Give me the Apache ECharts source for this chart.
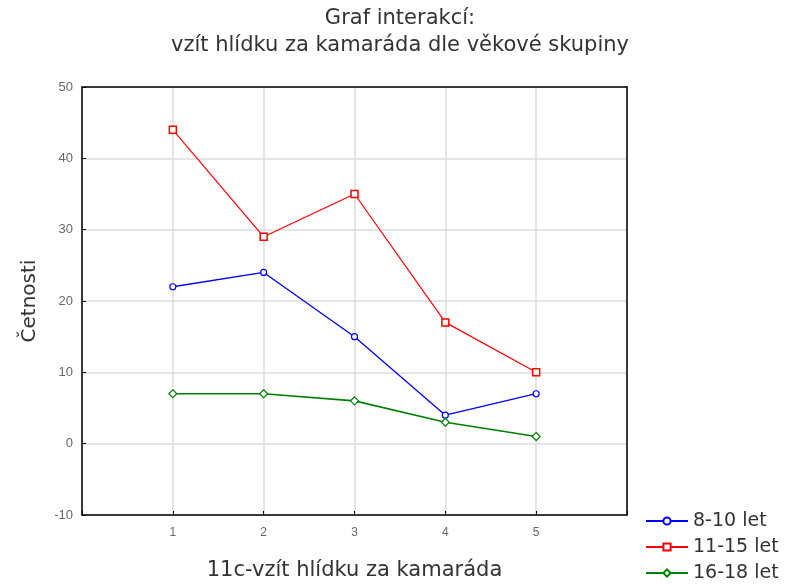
<!DOCTYPE html>
<html><head><meta charset="utf-8">
<script src="https://cdn.jsdelivr.net/npm/echarts@6/dist/echarts.min.js"></script>
<style>html,body{margin:0;padding:0;background:#fff;overflow:hidden}#c{width:800px;height:586px}</style>
</head><body><div id="c"></div>
<script>
var categories = [1, 2, 3, 4, 5];
var s810 = [22, 24, 15, 4, 7];
var s1115 = [44, 29, 35, 17, 10];
var s1618 = [7, 7, 6, 3, 1];
var yTicks = [-10, 0, 10, 20, 30, 40, 50];

function pts(arr){ return categories.map(function(c,i){ return [c, arr[i]]; }); }

var chart = echarts.init(document.getElementById('c'));
var font = '"DejaVu Sans", Verdana, sans-serif';
var tickFont = 'Arial, "Liberation Sans", sans-serif';
chart.setOption({
  animation: false,
  textStyle: {fontFamily: font},
  title: {
    text: 'Graf interakcí:\nvzít hlídku za kamaráda dle věkové skupiny',
    left: 400, textAlign: 'center', top: 5, padding: 0,
    textStyle: {fontSize: 21, fontWeight: 'normal', color: '#333', lineHeight: 27, fontFamily: font}
  },
  grid: {left: 82, top: 87, width: 545, height: 430, containLabel: false},
  legend: {
    orient: 'vertical', left: 645, top: 511, padding: 0, itemGap: 6, itemWidth: 42, itemHeight: 9,
    textStyle: {fontSize: 19, color: '#333', fontFamily: font, lineHeight: 20},
    data: ['8-10 let', '11-15 let', '16-18 let']
  },
  xAxis: [{
    type: 'value', min: 0, max: 6, interval: 1,
    name: '11c-vzít hlídku za kamaráda', nameLocation: 'middle', nameGap: 45,
    nameTextStyle: {fontSize: 21, color: '#333', fontFamily: font},
    axisLine: {onZero: false, lineStyle: {color: '#000', width: 1.5}},
    axisTick: {inside: true, length: 4, lineStyle: {color: '#000'}},
    axisLabel: {fontSize: 12, color: '#666', margin: 12, fontFamily: tickFont, formatter: function(v){ return (v>=1 && v<=5) ? String(v) : ''; }},
    splitLine: {show: true, lineStyle: {color: '#dcdcdc', width: 1.5}}
  }, {
    type: 'value', position: 'top', min: 0, max: 6, interval: 1,
    axisLine: {show: true, onZero: false, lineStyle: {color: '#000', width: 1.5}},
    axisTick: {show: false}, axisLabel: {show: false}, splitLine: {show: false}
  }],
  yAxis: [{
    type: 'value', min: yTicks[0], max: yTicks[yTicks.length-1], interval: 10,
    name: 'Četnosti', nameLocation: 'middle', nameGap: 42,
    nameTextStyle: {fontSize: 20, color: '#333', fontFamily: font},
    axisLine: {show: true, onZero: false, lineStyle: {color: '#000', width: 1.5}},
    axisTick: {show: true, inside: true, length: 4, lineStyle: {color: '#000'}},
    axisLabel: {fontSize: 13, color: '#666', margin: 9, fontFamily: tickFont},
    splitLine: {show: true, lineStyle: {color: '#dcdcdc', width: 1.5}}
  }, {
    type: 'value', position: 'right', min: yTicks[0], max: yTicks[yTicks.length-1], interval: 10,
    axisLine: {show: true, onZero: false, lineStyle: {color: '#000', width: 1.5}},
    axisTick: {show: false}, axisLabel: {show: false}, splitLine: {show: false}
  }],
  series: [
    {name: '8-10 let', type: 'line', data: pts(s810), symbol: 'circle', symbolSize: 6,
     itemStyle: {color: '#fff', borderColor: '#0000ff', borderWidth: 1.2},
     lineStyle: {color: '#0000ff', width: 1.3}, color: '#0000ff'},
    {name: '11-15 let', type: 'line', data: pts(s1115), symbol: 'rect', symbolSize: 7,
     itemStyle: {color: '#fff', borderColor: '#ff0000', borderWidth: 1.5},
     lineStyle: {color: '#ff0000', width: 1.2}, color: '#ff0000'},
    {name: '16-18 let', type: 'line', data: pts(s1618), symbol: 'diamond', symbolSize: 8,
     itemStyle: {color: '#fff', borderColor: '#008000', borderWidth: 1.2},
     lineStyle: {color: '#008000', width: 1.6}, color: '#008000'}
  ]
});
</script></body></html>
